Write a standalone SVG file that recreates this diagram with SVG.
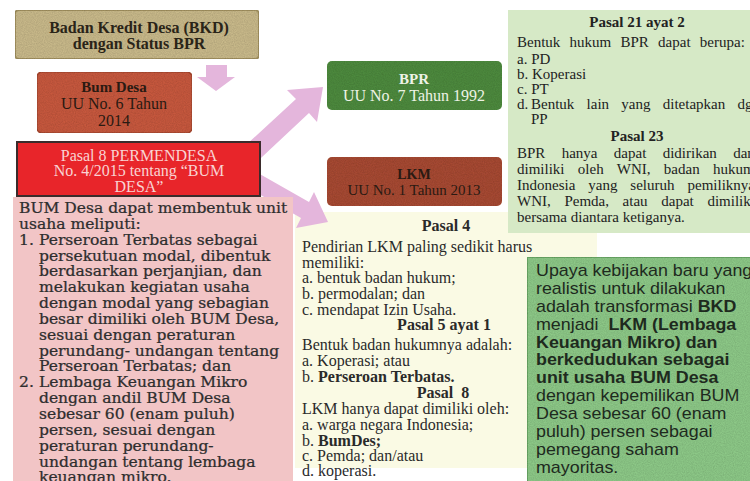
<svg xmlns="http://www.w3.org/2000/svg" width="750" height="481" viewBox="0 0 750 481">
<defs>
<filter id="tex" x="0" y="0" width="1" height="1">
<feTurbulence type="fractalNoise" baseFrequency="0.9" numOctaves="2" seed="3" result="n"/>
<feColorMatrix in="n" type="matrix" values="0 0 0 0 0  0 0 0 0 0  0 0 0 0 0  0 0 0 0.35 -0.05" result="d"/>
<feComposite in="d" in2="SourceGraphic" operator="in" result="d2"/>
<feMerge><feMergeNode in="SourceGraphic"/><feMergeNode in="d2"/></feMerge>
</filter>
<style>
.serif{font-family:"Liberation Serif","Times New Roman",serif;}
.bk{font-family:"DejaVu Serif",serif;font-size:14px;fill:#2e2e2e;stroke:#2e2e2e;stroke-width:0.25;}
.sans{font-family:"Liberation Sans",Arial,sans-serif;font-size:17px;fill:#1e2a1e;}
.b{font-weight:bold;}
.arrow{fill:#e4b6dc;}
.p21{font-size:15px;fill:#222;}
.mid{font-size:16px;fill:#2a2a2a;}
</style>
</defs>
<rect width="750" height="481" fill="#ffffff"/>

<g id="lkm-pasal">
<rect x="295" y="212" width="302" height="256" fill="#fafae4"/>
<g class="serif mid">
<text x="446" y="231" text-anchor="middle" class="b">Pasal 4</text>
<text x="302" y="252">Pendirian LKM paling sedikit harus</text>
<text x="302" y="268">memiliki:</text>
<text x="302" y="283">a. bentuk badan hukum;</text>
<text x="302" y="299">b. permodalan; dan</text>
<text x="302" y="315">c. mendapat Izin Usaha.</text>
<text x="444" y="330" text-anchor="middle" class="b">Pasal 5 ayat 1</text>
<text x="302" y="350">Bentuk badan hukumnya adalah:</text>
<text x="302" y="366">a. Koperasi; atau</text>
<text x="302" y="382">b. <tspan class="b">Perseroan Terbatas.</tspan></text>
<text x="443" y="398" text-anchor="middle" class="b" xml:space="preserve">Pasal  8</text>
<text x="302" y="414">LKM hanya dapat dimiliki oleh:</text>
<text x="302" y="430">a. warga negara Indonesia;</text>
<text x="302" y="445.5">b. <tspan class="b">BumDes;</tspan></text>
<text x="302" y="461">c. Pemda; dan/atau</text>
<text x="302" y="476">d. koperasi.</text>
</g>
</g>

<g id="pasal21">
<rect x="508" y="10" width="260" height="223" fill="#d6e9c6"/>
<g class="serif p21">
<text x="637" y="27" text-anchor="middle" class="b">Pasal 21 ayat 2</text>
<text x="517" y="47" word-spacing="5.5">Bentuk hukum BPR dapat berupa:</text>
<text x="517" y="64">a. PD</text>
<text x="517" y="79">b. Koperasi</text>
<text x="517" y="94">c. PT</text>
<text x="517" y="109">d.</text>
<text x="531" y="109" word-spacing="8.5">Bentuk lain yang ditetapkan dgn</text>
<text x="531" y="124">PP</text>
<text x="637" y="141" text-anchor="middle" class="b">Pasal 23</text>
<text x="517" y="158" word-spacing="12.6">BPR hanya dapat didirikan dan</text>
<text x="517" y="174" word-spacing="9.6">dimiliki oleh WNI, badan hukum</text>
<text x="517" y="190" word-spacing="9.2">Indonesia yang seluruh pemiliknya</text>
<text x="517" y="206" word-spacing="9.9">WNI, Pemda, atau dapat dimiliki</text>
<text x="517" y="222">bersama diantara ketiganya.</text>
</g>
</g>

<g id="connectors">
<polygon class="arrow" points="206,65 227,65 227,77 235,77 216,91 197,77 206,77"/>
<polygon class="arrow" points="233,157 247,171 309,113 317,122 323,87 287,90 296,99"/>
<polygon class="arrow" points="236,181 244,165 309,202 314,192 328,222 296,228 301,218"/>
</g>

<g id="bkd">
<rect x="15" y="10" width="244" height="49" rx="4" fill="#cbbb8c" stroke="#a39260" stroke-width="2" filter="url(#tex)"/>
<text x="139" y="33" text-anchor="middle" class="serif b" font-size="16" fill="#2a2418">Badan Kredit Desa (BKD)</text>
<text x="139" y="49" text-anchor="middle" class="serif b" font-size="16" fill="#2a2418">dengan Status BPR</text>
</g>

<g id="bumdesa">
<rect x="37" y="72" width="155" height="61" rx="5" fill="#c95a3f" stroke="#a84a33" stroke-width="1.5" filter="url(#tex)"/>
<text x="114" y="92" text-anchor="middle" class="serif b" font-size="15" fill="#2a1a12">Bum Desa</text>
<text x="114" y="109" text-anchor="middle" class="serif" font-size="16" fill="#2a1a12">UU No. 6 Tahun</text>
<text x="114" y="126" text-anchor="middle" class="serif" font-size="16" fill="#2a1a12">2014</text>
</g>

<g id="bpr">
<rect x="327" y="61" width="175" height="49" rx="5" fill="#4f8c3f" filter="url(#tex)"/>
<text x="414" y="84" text-anchor="middle" class="serif b" font-size="15" fill="#eef3e6">BPR</text>
<text x="414" y="101" text-anchor="middle" class="serif" font-size="16" fill="#eef3e6">UU No. 7 Tahun 1992</text>
</g>

<g id="lkm">
<rect x="327" y="157" width="175" height="49" rx="5" fill="#a94c34" filter="url(#tex)"/>
<text x="414" y="179" text-anchor="middle" class="serif b" font-size="14" fill="#2a1a12">LKM</text>
<text x="414" y="195" text-anchor="middle" class="serif" font-size="15" fill="#2a1a12">UU No. 1 Tahun 2013</text>
</g>

<g id="bumdesa-unit">
<rect x="13" y="197" width="280" height="290" fill="#f2c5c6"/>
<g transform="translate(19,0) scale(1.11,1)" class="bk">
<text x="0" y="213">BUM Desa dapat membentuk unit</text>
<text x="0" y="228.85">usaha meliputi:</text>
<text x="0" y="244.7">1.</text>
<text x="18" y="244.7">Perseroan Terbatas sebagai</text>
<text x="18" y="260.55">persekutuan modal, dibentuk</text>
<text x="18" y="276.4">berdasarkan perjanjian, dan</text>
<text x="18" y="292.25">melakukan kegiatan usaha</text>
<text x="18" y="308.1">dengan modal yang sebagian</text>
<text x="18" y="323.95">besar dimiliki oleh BUM Desa,</text>
<text x="18" y="339.8">sesuai dengan peraturan</text>
<text x="18" y="355.65">perundang- undangan tentang</text>
<text x="18" y="371.5">Perseroan Terbatas; dan</text>
<text x="0" y="387.35">2.</text>
<text x="18" y="387.35">Lembaga Keuangan Mikro</text>
<text x="18" y="403.2">dengan andil BUM Desa</text>
<text x="18" y="419.05">sebesar 60 (enam puluh)</text>
<text x="18" y="434.9">persen, sesuai dengan</text>
<text x="18" y="450.75">peraturan perundang-</text>
<text x="18" y="466.6">undangan tentang lembaga</text>
<text x="18" y="482.45">keuangan mikro.</text>
</g>
</g>

<g id="permendesa">
<rect x="17" y="142" width="243" height="54" fill="#e8252a" stroke="#3b2b2b" stroke-width="2"/>
<text x="139" y="161" text-anchor="middle" class="serif" font-size="16" fill="#f9d3d3">Pasal 8 PERMENDESA</text>
<text x="139" y="176" text-anchor="middle" class="serif" font-size="16" fill="#f9d3d3">No. 4/2015 tentang “BUM</text>
<text x="139" y="192" text-anchor="middle" class="serif" font-size="16" fill="#f9d3d3">DESA”</text>
</g>

<g id="upaya">
<rect x="527" y="257" width="240" height="230" fill="#8fcb89" stroke="#6aa866" stroke-width="2" filter="url(#tex)"/>
<g class="sans" transform="translate(536,0) scale(1.05,1)">
<text x="0" y="276">Upaya kebijakan baru yang</text>
<text x="0" y="293.9">realistis untuk dilakukan</text>
<text x="0" y="311.8">adalah transformasi <tspan class="b">BKD</tspan></text>
<text x="0" y="329.7" xml:space="preserve">menjadi  <tspan class="b">LKM (Lembaga</tspan></text>
<text x="0" y="347.6" class="b">Keuangan Mikro) dan</text>
<text x="0" y="365.5" class="b">berkedudukan sebagai</text>
<text x="0" y="383.4" class="b">unit usaha BUM Desa</text>
<text x="0" y="401.3">dengan kepemilikan BUM</text>
<text x="0" y="419.2">Desa sebesar 60 (enam</text>
<text x="0" y="437.1">puluh) persen sebagai</text>
<text x="0" y="455">pemegang saham</text>
<text x="0" y="472.9">mayoritas.</text>
</g>
</g>
</svg>
